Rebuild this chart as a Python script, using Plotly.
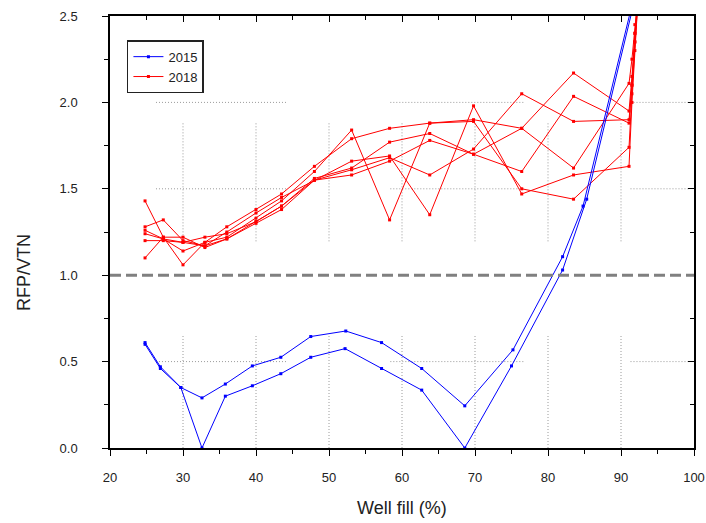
import plotly.graph_objects as go

# ---------------- data ----------------
x_2015_a = [24.8, 26.9, 29.7, 32.6, 35.8, 39.5, 43.4, 47.5, 52.3, 57.2, 62.7, 68.6, 75.2, 82.0, 84.8, 91.6]
y_2015_a = [0.61, 0.47, 0.35, 0.29, 0.37, 0.475, 0.525, 0.645, 0.677, 0.61, 0.46, 0.244, 0.568, 1.107, 1.40, 2.58]
x_2015_b = [24.8, 26.9, 29.7, 32.6, 35.8, 39.5, 43.4, 47.5, 52.2, 57.2, 62.7, 68.6, 75.0, 82.0, 85.3, 91.8]
y_2015_b = [0.60, 0.46, 0.35, 0.0, 0.30, 0.36, 0.43, 0.525, 0.575, 0.46, 0.335, 0.0, 0.475, 1.03, 1.44, 2.58]

x_2018 = [24.8, 27.3, 30.0, 33.0, 36.0, 40.0, 43.5, 48.0, 53.1, 58.3, 63.8, 69.8, 76.4, 83.5, 91.1, 91.5, 91.9, 92.4]
y_2018_1 = [1.43, 1.22, 1.06, 1.19, 1.22, 1.33, 1.43, 1.60, 1.84, 1.32, 1.88, 1.89, 1.50, 1.44, 1.74, 2.05, 2.35, 2.65]
y_2018_2 = [1.28, 1.32, 1.20, 1.17, 1.25, 1.36, 1.45, 1.55, 1.66, 1.69, 1.35, 1.98, 1.47, 1.58, 1.63, 2.00, 2.30, 2.65]
y_2018_3 = [1.26, 1.21, 1.14, 1.19, 1.28, 1.38, 1.47, 1.63, 1.79, 1.85, 1.88, 1.90, 1.85, 1.62, 2.11, 2.25, 2.45, 2.65]
y_2018_4 = [1.24, 1.21, 1.19, 1.22, 1.24, 1.31, 1.40, 1.55, 1.61, 1.68, 1.58, 1.73, 2.05, 1.89, 1.90, 2.10, 2.40, 2.65]
y_2018_5 = [1.20, 1.20, 1.19, 1.17, 1.21, 1.30, 1.38, 1.55, 1.58, 1.66, 1.78, 1.70, 1.85, 2.17, 1.95, 2.15, 2.40, 2.65]
y_2018_6 = [1.10, 1.22, 1.22, 1.16, 1.21, 1.31, 1.40, 1.56, 1.62, 1.77, 1.82, 1.70, 1.60, 2.035, 1.88, 2.10, 2.35, 2.65]
y_2018_all = [y_2018_1, y_2018_2, y_2018_3, y_2018_4, y_2018_5, y_2018_6]

x_ticks = [20, 30, 40, 50, 60, 70, 80, 90, 100]
y_ticks = [0.0, 0.5, 1.0, 1.5, 2.0, 2.5]
ref_level = 1.0

BLUE = "#0000FF"
RED = "#FF0000"
FONT = "Liberation Sans, Arial, sans-serif"
TXT = "#222222"

fig = go.Figure()

# red 2018 curves
for ys in y_2018_all:
    fig.add_trace(go.Scatter(
        x=x_2018, y=ys, mode="lines+markers", name="2018",
        line=dict(color=RED, width=1), marker=dict(color=RED, size=3, symbol="square"),
        showlegend=False, cliponaxis=True))

# blue 2015 curves
for xs, ys in [(x_2015_a, y_2015_a), (x_2015_b, y_2015_b)]:
    fig.add_trace(go.Scatter(
        x=xs, y=ys, mode="lines+markers", name="2015",
        line=dict(color=BLUE, width=1), marker=dict(color=BLUE, size=3, symbol="square"),
        showlegend=False, cliponaxis=True))

# legend entries
fig.add_trace(go.Scatter(x=[None], y=[None], mode="lines+markers", name="2015",
                         line=dict(color=BLUE, width=1), marker=dict(color=BLUE, size=3, symbol="square")))
fig.add_trace(go.Scatter(x=[None], y=[None], mode="lines+markers", name="2018",
                         line=dict(color=RED, width=1), marker=dict(color=RED, size=3, symbol="square")))

# dummy trace for inside ticks on top/right axes
fig.add_trace(go.Scatter(x=[None], y=[None], xaxis="x2", yaxis="y2", showlegend=False, hoverinfo="skip"))

# patchy dotted grid (as in reference)
grid_style = dict(color="#9a9a9a", width=1, dash="1px,2px")
for gy in [0.5, 1.5, 2.0]:
    for (x0, x1) in [(26.3, 44.2), (58.4, 76.7), (91.3, 99.5)]:
        fig.add_shape(type="line", x0=x0, x1=x1, y0=gy, y1=gy, xref="x", yref="y",
                      line=grid_style, layer="below")
for gx in [30, 40, 50, 60, 70, 80, 90]:
    for (y0, y1) in [(0.0, 0.655), (1.196, 1.888)]:
        fig.add_shape(type="line", x0=gx, x1=gx, y0=y0, y1=y1, xref="x", yref="y",
                      line=grid_style, layer="below")

# reference dashed line
fig.add_shape(type="line", x0=20, x1=100, y0=ref_level, y1=ref_level, xref="x", yref="y",
              line=dict(color="#808080", width=3, dash="11px,5px"), layer="above")

axis_common = dict(showline=True, linecolor="black", linewidth=1.5, mirror=True,
                   showgrid=False, zeroline=False, ticks="outside", tickcolor="black",
                   tickwidth=1, ticklen=6,
                   tickfont=dict(family=FONT, size=13, color=TXT))

fig.update_layout(
    width=706, height=523,
    margin=dict(l=110, r=12, t=16, b=75, autoexpand=False),
    paper_bgcolor="white", plot_bgcolor="white",
    font=dict(family=FONT, size=12, color=TXT),
    xaxis=dict(range=[20, 100], tickvals=x_ticks, ticktext=[str(v) for v in x_ticks],
               minor=dict(dtick=5, tick0=20, ticks="outside", ticklen=4, tickcolor="black"),
               ticklabelstandoff=11, **axis_common),
    yaxis=dict(range=[0, 2.5], tickvals=y_ticks, ticktext=[f"{v:.1f}" for v in y_ticks],
               minor=dict(dtick=0.25, tick0=0, ticks="outside", ticklen=4, tickcolor="black"),
               ticklabelstandoff=22, **axis_common),
    xaxis2=dict(range=[20, 100], overlaying="x", side="top", anchor="y", showline=False,
                showgrid=False, zeroline=False, showticklabels=False, ticks="inside",
                tickvals=x_ticks, ticklen=6, tickcolor="black",
                minor=dict(dtick=5, tick0=20, ticks="inside", ticklen=4, tickcolor="black")),
    yaxis2=dict(range=[0, 2.5], overlaying="y", side="right", anchor="x", showline=False,
                showgrid=False, zeroline=False, showticklabels=False, ticks="inside",
                tickvals=y_ticks, ticklen=6, tickcolor="black",
                minor=dict(dtick=0.25, tick0=0, ticks="inside", ticklen=4, tickcolor="black")),
    legend=dict(x=0.029, y=0.944, xanchor="left", yanchor="top",
                bordercolor=TXT, borderwidth=1.5, bgcolor="white",
                font=dict(family=FONT, size=13, color=TXT),
                itemwidth=30, tracegroupgap=2),
    showlegend=True,
)

# axis titles as annotations
fig.add_annotation(text="Well fill (%)", x=(402 - 110) / 584, y=-(508 - 448) / 432,
                   xref="paper", yref="paper", showarrow=False, xanchor="center", yanchor="middle",
                   font=dict(family=FONT, size=18, color=TXT))
fig.add_annotation(text="RFP/VTN", x=-(110 - 24) / 584, y=(448 - 273) / 432,
                   xref="paper", yref="paper", showarrow=False, xanchor="center", yanchor="middle",
                   textangle=-90, font=dict(family=FONT, size=18, color=TXT))

fig.write_html("out.html", config={"displayModeBar": False},
               post_script="document.body.style.margin='0';")
